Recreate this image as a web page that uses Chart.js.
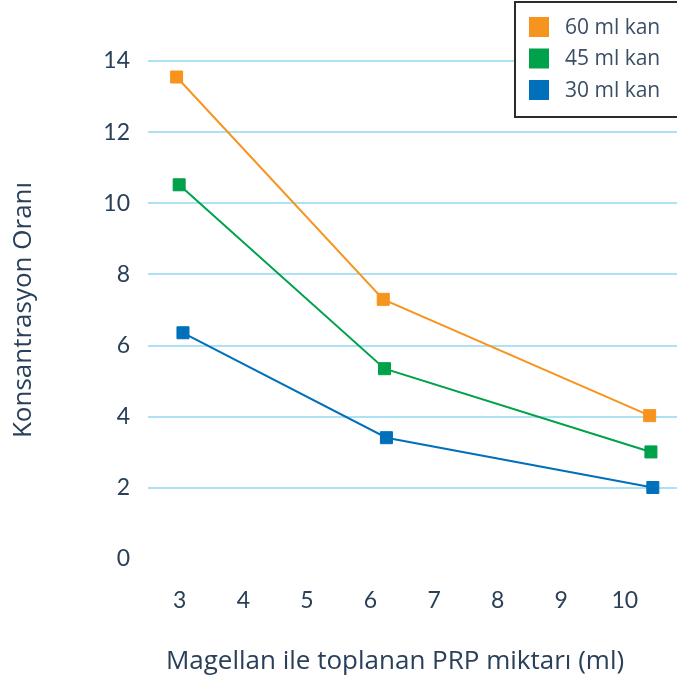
<!DOCTYPE html>
<html>
<head>
<meta charset="utf-8">
<script src="https://cdn.jsdelivr.net/npm/chart.js@4"></script>
<style>
  html, body { margin: 0; padding: 0; background: #fff; }
  #wrap { width: 677px; height: 681px; }
</style>
</head>
<body>
<div id="wrap"><canvas id="mychart" width="677" height="681"></canvas></div>
<script>
const seriesNames = ["60 ml kan", "45 ml kan", "30 ml kan"];
const seriesColors = ["#F7941D", "#00A14B", "#0070BA"];

const x60 = [2.95, 6.2, 10.39];
const y60 = [13.55, 7.3, 4.03];
const x45 = [2.99, 6.22, 10.41];
const y45 = [10.52, 5.35, 3.01];
const x30 = [3.05, 6.25, 10.44];
const y30 = [6.36, 3.41, 2.01];

const xTicks = [3, 4, 5, 6, 7, 8, 9, 10];
const yTicks = [0, 2, 4, 6, 8, 10, 12, 14];

const xTitle = "Magellan ile toplanan PRP miktarı (ml)";
const yTitle = "Konsantrasyon Oranı";

const TEXT = "#2a4059";
const GRID = "#ade1f4";

function points(xs, ys) {
  return xs.map((x, i) => ({ x: x, y: ys[i] }));
}

const allX = [x60, x45, x30];
const allY = [y60, y45, y30];

const datasets = seriesNames.map((name, i) => ({
  label: name,
  data: points(allX[i], allY[i]),
  borderColor: seriesColors[i],
  backgroundColor: seriesColors[i],
  borderWidth: 2,
  pointStyle: "rect",
  pointRadius: 8.5,
  pointBorderWidth: 1,
  pointBorderColor: seriesColors[i],
  pointBackgroundColor: seriesColors[i],
  tension: 0,
}));

// legend box in the top right + x title (sits a bit left of the plot centre)
const extras = {
  id: "extras",
  afterDraw(chart) {
    const ctx = chart.ctx;
    ctx.save();
    ctx.fillStyle = "#fff";
    ctx.fillRect(515, 2, 170, 115);
    ctx.strokeStyle = "#2b2b2b";
    ctx.lineWidth = 2;
    ctx.strokeRect(515, 2, 170, 115);
    ctx.font = "21px 'Open Sans'";
    ctx.textBaseline = "middle";
    chart.data.datasets.forEach((ds, i) => {
      const cy = 27 + i * 31.5;
      ctx.fillStyle = ds.borderColor;
      ctx.fillRect(529, cy - 10, 20, 20);
      ctx.fillStyle = "#3a4e66";
      ctx.fillText(ds.label, 565, cy + 1);
    });

    ctx.font = "26px 'Open Sans'";
    ctx.fillStyle = TEXT;
    ctx.textAlign = "center";
    ctx.fillText(xTitle, 395, 662);
    ctx.restore();
  },
};

const chart = document.querySelector("#mychart");
const myChart = new Chart(chart, {
  type: "line",
  data: { datasets: datasets },
  plugins: [extras],
  options: {
    responsive: false,
    animation: false,
    layout: { autoPadding: false, padding: { top: 61, right: 0, left: 0, bottom: 0 } },
    plugins: {
      legend: { display: false },
      tooltip: { enabled: false },
    },
    scales: {
      x: {
        type: "linear",
        min: 2.5,
        max: 10.82,
        afterBuildTicks: (scale) => {
          scale.ticks = xTicks.map((v) => ({ value: v }));
        },
        afterFit: (scale) => {
          scale.height = 122;
          scale.paddingLeft = 0;
          scale.paddingRight = 0;
        },
        grid: { display: false, drawTicks: false },
        border: { display: false },
        ticks: {
          color: TEXT,
          font: { family: "Lato", size: 23 },
          padding: 28,
          maxRotation: 0,
          autoSkip: false,
        },
        title: { display: false },
      },
      y: {
        min: 0,
        max: 14,
        afterBuildTicks: (scale) => {
          scale.ticks = yTicks.map((v) => ({ value: v }));
        },
        afterFit: (scale) => {
          scale.width = 148;
        },
        grid: {
          drawTicks: false,
          lineWidth: 2,
          color: (c) => (c.tick && c.tick.value === 0 ? "rgba(0,0,0,0)" : GRID),
        },
        border: { display: false },
        ticks: {
          color: TEXT,
          font: { family: "Lato", size: 23 },
          padding: 18,
        },
        title: {
          display: true,
          text: yTitle,
          color: TEXT,
          font: { family: "Open Sans", size: 26 },
          padding: { top: 8, bottom: 0 },
        },
      },
    },
  },
});
</script>
</body>
</html>
